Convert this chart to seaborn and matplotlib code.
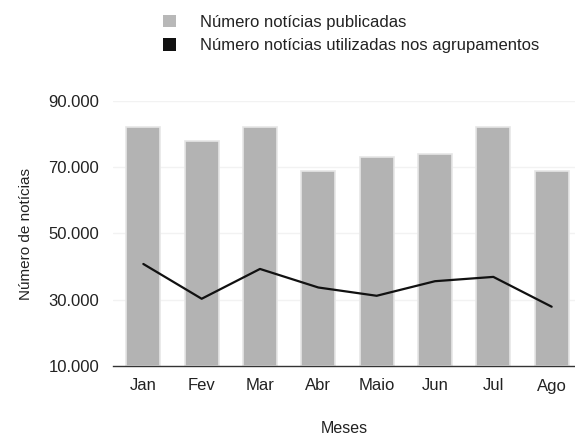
import matplotlib
matplotlib.use("Agg")
import matplotlib.pyplot as plt
import matplotlib.ticker as mticker
from matplotlib.patches import Patch
import seaborn as sns
import pandas as pd

meses = ["Jan", "Fev", "Mar", "Abr", "Maio", "Jun", "Jul", "Ago"]
publicadas = [82000, 78000, 82000, 69000, 73000, 74000, 82000, 69000]
utilizadas = [40800, 30300, 39300, 33700, 31200, 35600, 36900, 27900]
yticks = [10000, 30000, 50000, 70000, 90000]

df = pd.DataFrame({"Mes": meses, "Publicadas": publicadas, "Utilizadas": utilizadas})

sns.set_theme(style="white")
plt.rcParams["font.family"] = ["Liberation Sans", "DejaVu Sans"]

fig = plt.figure(figsize=(5.75, 4.37), dpi=100)
ax = fig.add_axes([113 / 575, (437 - 366) / 437, 1 - 113 / 575, (366 - 101) / 437])

for y in yticks[1:]:
    ax.axhline(y, color="#f2f2f2", lw=1.0, zorder=0)

sns.barplot(data=df, x="Mes", y="Publicadas", color="#b3b3b3", saturation=1,
            width=0.58, edgecolor="#e6e6e6", linewidth=1.2, ax=ax, zorder=2)
# bars start at the bottom of the axis
for p in ax.patches:
    p.set_y(10000)
    p.set_height(p.get_height() - 10000)

ax.plot(range(len(meses)), df["Utilizadas"], color="#111111", lw=1.6, zorder=3)

ax.set_ylim(10000, 90000)
ax.set_xlim(-0.52, 7.4)
ax.set_yticks(yticks)
ax.yaxis.set_major_formatter(mticker.FuncFormatter(lambda v, _: f"{int(v):,}".replace(",", ".")))
ax.tick_params(axis="both", labelsize=12, colors="#222222", length=0, pad=10)
ax.tick_params(axis="x", pad=9)
for s in ["left", "right", "top"]:
    ax.spines[s].set_visible(False)
ax.spines["bottom"].set_color("#333333")
ax.spines["bottom"].set_linewidth(1.0)

ax.set_xlabel("Meses", fontsize=11.5, color="#222222", labelpad=20)
ax.set_ylabel("Número de notícias", fontsize=11, color="#222222", labelpad=11)

handles = [Patch(facecolor="#b8b8b8", edgecolor="none"),
           Patch(facecolor="#111111", edgecolor="none")]
fig.legend(handles, ["Número notícias publicadas", "Número notícias utilizadas nos agrupamentos"],
           loc="upper left", bbox_to_anchor=(148 / 575, 1.0), frameon=False, fontsize=12,
           handlelength=0.75, handleheight=0.75, handletextpad=1.5, labelspacing=0.5,
           labelcolor="#222222")

fig.savefig("out.png", dpi=100)
